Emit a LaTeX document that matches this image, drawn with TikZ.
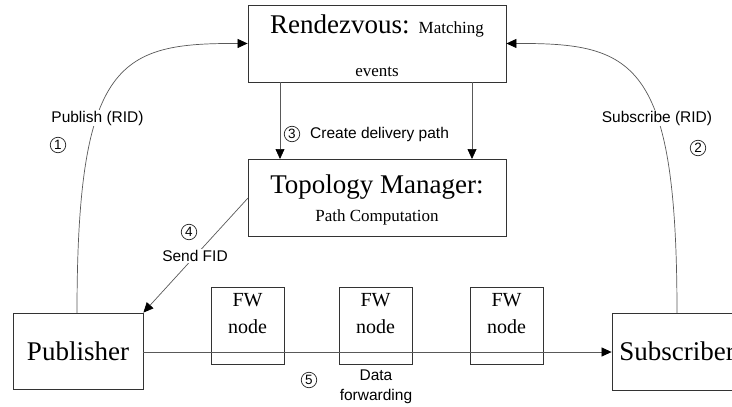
\documentclass[tikz,border=0pt]{standalone}
\usepackage{fontspec}
\setmainfont{Liberation Serif}
\newfontfamily\labelfont{Liberation Sans}
\usetikzlibrary{arrows.meta}

\tikzset{
  box/.style={draw=black!80, line width=0.8pt, inner sep=0pt, rectangle},
  conn/.style={draw=black!65, line width=0.7pt},
  tip/.style={-{Triangle[length=10pt,width=9pt,color=black]}},
  lbl/.style={font=\labelfont\fontsize{15.5}{18}\selectfont, inner sep=1pt, fill=white},
  num/.style={circle, draw=black!85, line width=0.7pt, inner sep=0pt, minimum size=15.5pt,
              font=\labelfont\fontsize{13.5}{13.5}\selectfont, fill=white},
  big/.style={font=\fontsize{27}{30}\selectfont, inner sep=0pt},
  small/.style={font=\fontsize{17}{20}\selectfont, inner sep=0pt},
  fw/.style={box, minimum width=73pt, minimum height=77pt}
}

\begin{document}
\begin{tikzpicture}[x=1pt, y=-1pt]
\clip (0,0) rectangle (732,407);
\fill[white] (0,0) rectangle (732,407);

% main boxes
\node[box, minimum width=258pt, minimum height=77pt] (rv) at (377,43.5) {};
\node[box, minimum width=258pt, minimum height=77pt] (tm) at (377,197.5) {};
\node[box, minimum width=130pt, minimum height=76pt] (pub) at (78,351) {};
\node[box, minimum width=130pt, minimum height=77pt] (sub) at (677,351.5) {};

% forwarding nodes
\node[fw] (fw1) at (247.5,325.5) {};
\node[fw] (fw2) at (375.5,325.5) {};
\node[fw] (fw3) at (506.5,325.5) {};

% box texts
\node[anchor=base] (rvtitle) at (377,33) {\fontsize{27}{30}\selectfont Rendezvous: {\fontsize{17}{20}\selectfont Matching}};
\node[small, anchor=base] (rvsub) at (377,76) {events};
\node[big, anchor=base] (tmtitle) at (377,193) {Topology Manager:};
\node[small, anchor=base] (tmsub) at (377,221) {Path Computation};
\node[big] (pubtxt) at (pub.center) {Publisher};
\node[big] (subtxt) at (sub.center) {Subscriber};
\foreach \i in {1,2,3}{
  \node[font=\fontsize{20}{20}\selectfont, anchor=base] (fwa\i) at ([yshift=-20pt]fw\i.north) {FW};
  \node[font=\fontsize{20}{20}\selectfont, anchor=base] (fwb\i) at ([yshift=-47pt]fw\i.north) {node};
}

% connectors
\coordinate (rvA) at (280,82);
\coordinate (tmA) at (280,159);
\coordinate (rvB) at (472,82);
\coordinate (tmB) at (472,159);
\draw[conn, tip] (rvA) -- (tmA);
\draw[conn, tip] (rvB) -- (tmB);

\coordinate (pubtop) at (77,313);
\coordinate (subtop) at (677,313);
\draw[conn, tip] (pubtop) .. controls (77,60) and (120,43) .. (rv.west);
\draw[conn, tip] (subtop) .. controls (677,60) and (634,43) .. (rv.east);

\coordinate (tmleft) at (248,198);
\draw[conn, tip] (tmleft) -- (pub.north east);

\draw[conn, tip] (pub.east |- 0,352) -- (sub.west |- 0,352);

% labels
\node[lbl] (publbl) at (97.5,118) {Publish (RID)};
\node[num] (n1) at (58,145) {1};
\node[lbl] (sublbl) at (657,118) {Subscribe (RID)};
\node[num] (n2) at (698,148) {2};
\node[num] (n3) at (292,134) {3};
\node[lbl, anchor=west, fill=none] (crlbl) at (309,134) {Create delivery path};
\node[num] (n4) at (189,232) {4};
\node[lbl] (sflbl) at (195,256) {Send FID};
\node[num] (n5) at (309,380) {5};
\node[lbl, fill=none, align=center, font=\labelfont\fontsize{15.5}{20}\selectfont] (dflbl) at (376,387) {Data\\forwarding};
\end{tikzpicture}
\end{document}
